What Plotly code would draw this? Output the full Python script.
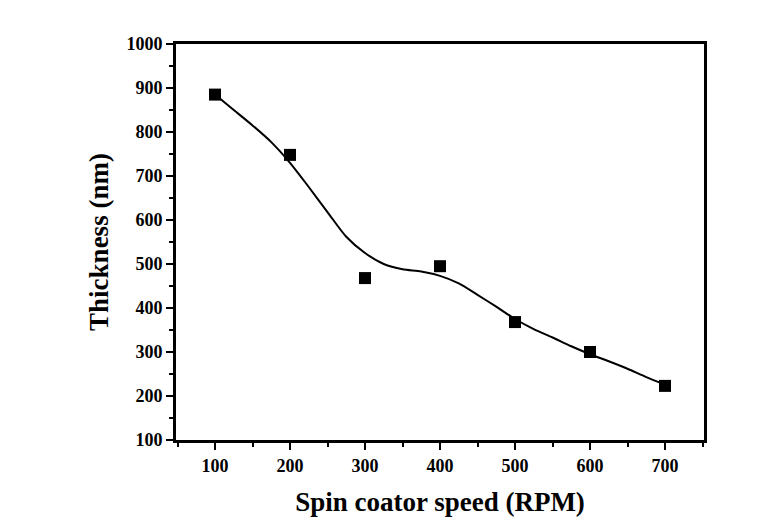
import plotly.graph_objects as go

# measured points
speed_rpm = [100, 200, 300, 400, 500, 600, 700]
thickness_nm = [885, 748, 468, 495, 368, 300, 223]

# smoothed curve
curve_x = [100, 125, 150, 175, 200, 225, 250, 275, 300, 325, 350, 375, 400,
           425, 450, 475, 500, 525, 550, 575, 600, 625, 650, 675, 700]
curve_y = [885, 850, 815, 777, 730, 675, 618, 562, 525, 500, 488, 483, 473,
           456, 430, 403, 375, 352, 333, 313, 295, 279, 262, 243, 226]

x_ticks = [100, 200, 300, 400, 500, 600, 700]
y_ticks = [100, 200, 300, 400, 500, 600, 700, 800, 900, 1000]

font_family = "Liberation Serif"

fig = go.Figure()
fig.add_trace(go.Scatter(x=curve_x, y=curve_y, mode="lines",
                         line=dict(color="black", width=2, shape="spline", smoothing=0.8),
                         showlegend=False, hoverinfo="skip"))
fig.add_trace(go.Scatter(x=speed_rpm, y=thickness_nm, mode="markers",
                         marker=dict(symbol="square", size=12, color="black"),
                         showlegend=False))

axis_common = dict(
    showline=True, linecolor="black", linewidth=3, mirror=True,
    ticks="outside", ticklen=7, tickwidth=2, tickcolor="black",
    showgrid=False, zeroline=False,
    tickfont=dict(family=font_family, size=18, color="black", weight="bold"),
)

fig.update_xaxes(range=[48, 752], tickvals=x_ticks,
                 minor=dict(ticks="outside", ticklen=4, tickwidth=2, tickcolor="black", dtick=50, tick0=50),
                 title=dict(text="<b>Spin coator speed (RPM)</b>", standoff=18,
                            font=dict(family=font_family, size=27, color="black")),
                 **axis_common)
fig.update_yaxes(range=[100, 1000], tickvals=y_ticks,
                 minor=dict(ticks="outside", ticklen=4, tickwidth=2, tickcolor="black", dtick=50, tick0=50),
                 title=dict(text="<b>Thickness (nm)</b>", standoff=10,
                            font=dict(family=font_family, size=27, color="black")),
                 **axis_common)

fig.update_layout(width=757, height=518,
                  margin=dict(l=168, r=61, t=36, b=86),
                  paper_bgcolor="white", plot_bgcolor="white")

fig.write_html("out.html")
